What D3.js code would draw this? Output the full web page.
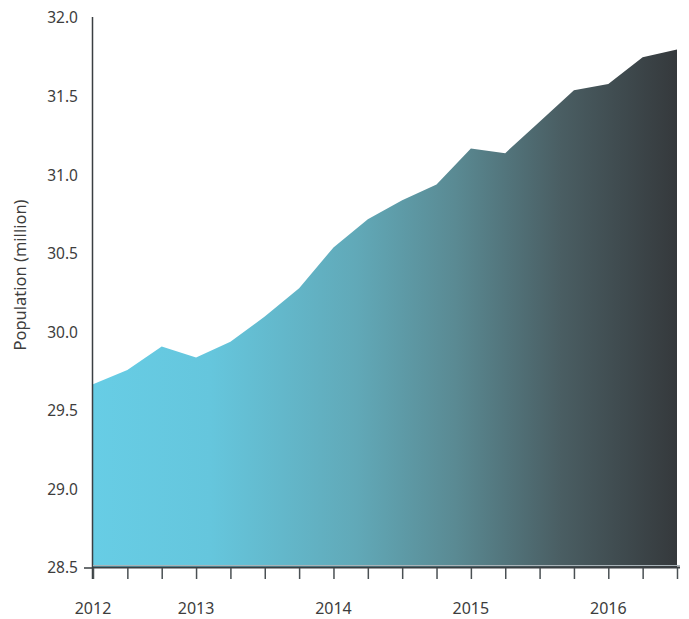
<!DOCTYPE html>
<html>
<head>
<meta charset="utf-8">
<script src="https://cdn.jsdelivr.net/npm/d3@7"></script>
<style>
  html, body { margin: 0; padding: 0; background: #fff; }
  svg { display: block; font-family: "Noto Sans", "Open Sans", sans-serif; }
</style>
</head>
<body>
<svg id="chart" width="689" height="619"></svg>
<script>
// Quarterly population, in millions (mid-2012 to Q3 2016)
const quarters = ["2012Q2","2012Q3","2012Q4","2013Q1","2013Q2","2013Q3","2013Q4",
                  "2014Q1","2014Q2","2014Q3","2014Q4","2015Q1","2015Q2","2015Q3",
                  "2015Q4","2016Q1","2016Q2","2016Q3"];
const population = [29.67, 29.76, 29.91, 29.84, 29.94, 30.10, 30.28,
                    30.54, 30.72, 30.84, 30.94, 31.17, 31.14, 31.34,
                    31.54, 31.58, 31.75, 31.80];
const yearLabels = [
  { quarter: "2012Q2", label: "2012" },
  { quarter: "2013Q1", label: "2013" },
  { quarter: "2014Q1", label: "2014" },
  { quarter: "2015Q1", label: "2015" },
  { quarter: "2016Q1", label: "2016" }
];
const yTicks = [28.5, 29.0, 29.5, 30.0, 30.5, 31.0, 31.5, 32.0];

const svg = d3.select("#chart");
const plotLeft = 93, plotRight = 677, plotTop = 18, plotBottom = 568;
const textColor = "#3d3d3d";

const x = d3.scalePoint().domain(quarters).range([plotLeft, plotRight]);
const y = d3.scaleLinear().domain([28.5, 32]).range([plotBottom, plotTop]);

// horizontal colour ramp across the filled area
const defs = svg.append("defs");
const grad = defs.append("linearGradient")
  .attr("id", "fillRamp")
  .attr("gradientUnits", "userSpaceOnUse")
  .attr("x1", plotLeft).attr("x2", plotRight).attr("y1", 0).attr("y2", 0);
[[0, "#67cde5"], [0.2, "#65c6dd"], [0.45, "#61a9b8"], [0.62, "#5a8a93"],
 [0.8, "#4a5e63"], [1, "#35393c"]].forEach(([o, c]) =>
  grad.append("stop").attr("offset", o).attr("stop-color", c));

const data = quarters.map((q, i) => ({ q, v: population[i] }));

const area = d3.area()
  .x(d => x(d.q))
  .y0(y(28.5))
  .y1(d => y(d.v));

svg.append("path")
  .datum(data)
  .attr("d", area)
  .attr("fill", "url(#fillRamp)");

// y axis: labels only, with the line drawn separately
const yAxis = d3.axisLeft(y)
  .tickValues(yTicks)
  .tickFormat(d3.format(".1f"))
  .tickSize(0)
  .tickPadding(15);
const yg = svg.append("g").attr("transform", `translate(${plotLeft},0)`).call(yAxis);
yg.select(".domain").remove();
yg.selectAll("text").attr("font-size", 15.5).attr("fill", textColor)
  .attr("font-family", "'Noto Sans', 'Open Sans', sans-serif");

// short tick at the baseline value
svg.append("line")
  .attr("x1", plotLeft - 9).attr("x2", plotLeft)
  .attr("y1", y(28.5)).attr("y2", y(28.5))
  .attr("stroke", "#3a3f42").attr("stroke-width", 1.5);

// vertical axis line
svg.append("line")
  .attr("x1", plotLeft - 0.5).attr("x2", plotLeft - 0.5)
  .attr("y1", plotTop - 1).attr("y2", plotBottom + 11)
  .attr("stroke", "#3a3f42").attr("stroke-width", 1.5);

// x axis baseline: thin light rule above a darker one
svg.append("line")
  .attr("x1", plotLeft).attr("x2", plotRight + 3)
  .attr("y1", plotBottom - 2.5).attr("y2", plotBottom - 2.5)
  .attr("stroke", "#a9b3b8").attr("stroke-width", 1);
svg.append("line")
  .attr("x1", plotLeft).attr("x2", plotRight + 3)
  .attr("y1", plotBottom - 0.5).attr("y2", plotBottom - 0.5)
  .attr("stroke", "#3a3f42").attr("stroke-width", 2);

// x ticks at every quarter, year labels on selected quarters
const xAxis = d3.axisBottom(x).tickSize(11).tickFormat(() => "");
const xg = svg.append("g").attr("transform", `translate(0,${plotBottom})`).call(xAxis);
xg.select(".domain").remove();
xg.selectAll(".tick line").attr("stroke", "#4a5053").attr("stroke-width", 1.5);

svg.append("g").selectAll("text")
  .data(yearLabels)
  .join("text")
  .attr("x", d => x(d.quarter))
  .attr("y", 614)
  .attr("text-anchor", "middle")
  .attr("font-size", 16)
  .attr("fill", textColor)
  .text(d => d.label);

// axis title
svg.append("text")
  .attr("transform", `translate(26,${(plotTop + plotBottom) / 2 - 18}) rotate(-90)`)
  .attr("text-anchor", "middle")
  .attr("font-size", 16.5)
  .attr("fill", textColor)
  .text("Population (million)");
</script>
</body>
</html>
